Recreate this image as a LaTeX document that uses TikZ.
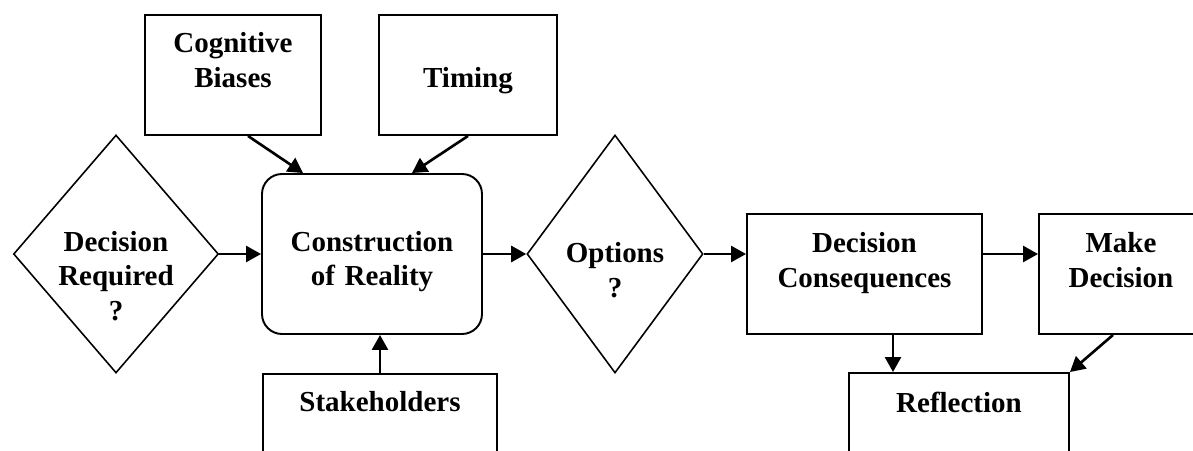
\documentclass[tikz,border=0pt]{standalone}
\usepackage{fontspec}
\setmainfont{Liberation Serif}
\usepackage{tikz}
\usetikzlibrary{shapes.geometric,arrows.meta,calc}

\begin{document}
\begin{tikzpicture}[
            font=\fontsize{16.5}{19.9}\selectfont\bfseries,
            caja/.style={draw,line width=1.1pt,inner sep=0pt,align=center},
            rombo/.style={draw,diamond,line width=0.9pt,inner sep=0pt,align=center},
            flecha/.style={line width=1.5pt,-{Triangle[length=0.3cm,width=0.32cm]}}]
            \useasboundingbox (0,0) rectangle (23.86,9);
            \clip (0,0) rectangle (23.86,9);
            % rombos
            \node[rombo,minimum width=4.1cm,minimum height=4.76cm,text width=2.6cm,text height=0.5cm,text depth=0.62cm] (needed) at (2.32,3.92) {Decision\\Required\\?};
            \node[rombo,minimum width=3.52cm,minimum height=4.76cm,text width=2.2cm,text height=0.6cm,text depth=0.24cm] (options) at (12.3,3.92) {Options\\?};
            % cajas
            \node[caja,text width=3.52cm,text height=0.76cm,text depth=1.64cm] (bias) at (4.66,7.5) {Cognitive\\Biases};
            \node[caja,text width=3.56cm,text height=1.46cm,text depth=0.94cm] (timing) at (9.36,7.5) {Timing};
            \node[caja,rounded corners=0.4cm,text width=4.4cm,text height=1.54cm,text depth=1.66cm] (reality) at (7.44,3.92) {Construction\\of Reality};
            \node[caja,text width=4.68cm,text height=0.76cm,text depth=1.64cm] (stake) at (7.6,0.32) {Stakeholders};
            \node[caja,text width=4.7cm,text height=0.78cm,text depth=1.62cm] (conseq) at (17.29,3.52) {Decision\\Consequences};
            \node[caja,text width=3.28cm,text height=0.78cm,text depth=1.62cm] (make) at (22.42,3.52) {Make\\Decision};
            \node[caja,text width=4.4cm,text height=0.78cm,text depth=1.62cm] (reflect) at (19.18,0.34) {Reflection};
            % flechas
            \draw[flecha] (needed) -- (reality);
            \draw[flecha] (reality) -- (options);
            \draw[flecha] (options.east) -- (options.east -| conseq.west);
            \draw[flecha] (conseq.east |- options.east) -- (make.west |- options.east);
            \draw[flecha] ([xshift=0.3cm]bias.south) -- ([xshift=-1.38cm]reality.north);
            \draw[flecha] (timing.south) -- ([xshift=0.8cm]reality.north);
            \draw[flecha] (stake.north) -- (stake.north |- reality.south);
            \draw[flecha] ([xshift=0.57cm]conseq.south) -- ([xshift=0.57cm]conseq.south |- reflect.north);
            \draw[flecha] ([xshift=-0.16cm]make.south) -- (reflect.north east);
\end{tikzpicture}
\end{document}
